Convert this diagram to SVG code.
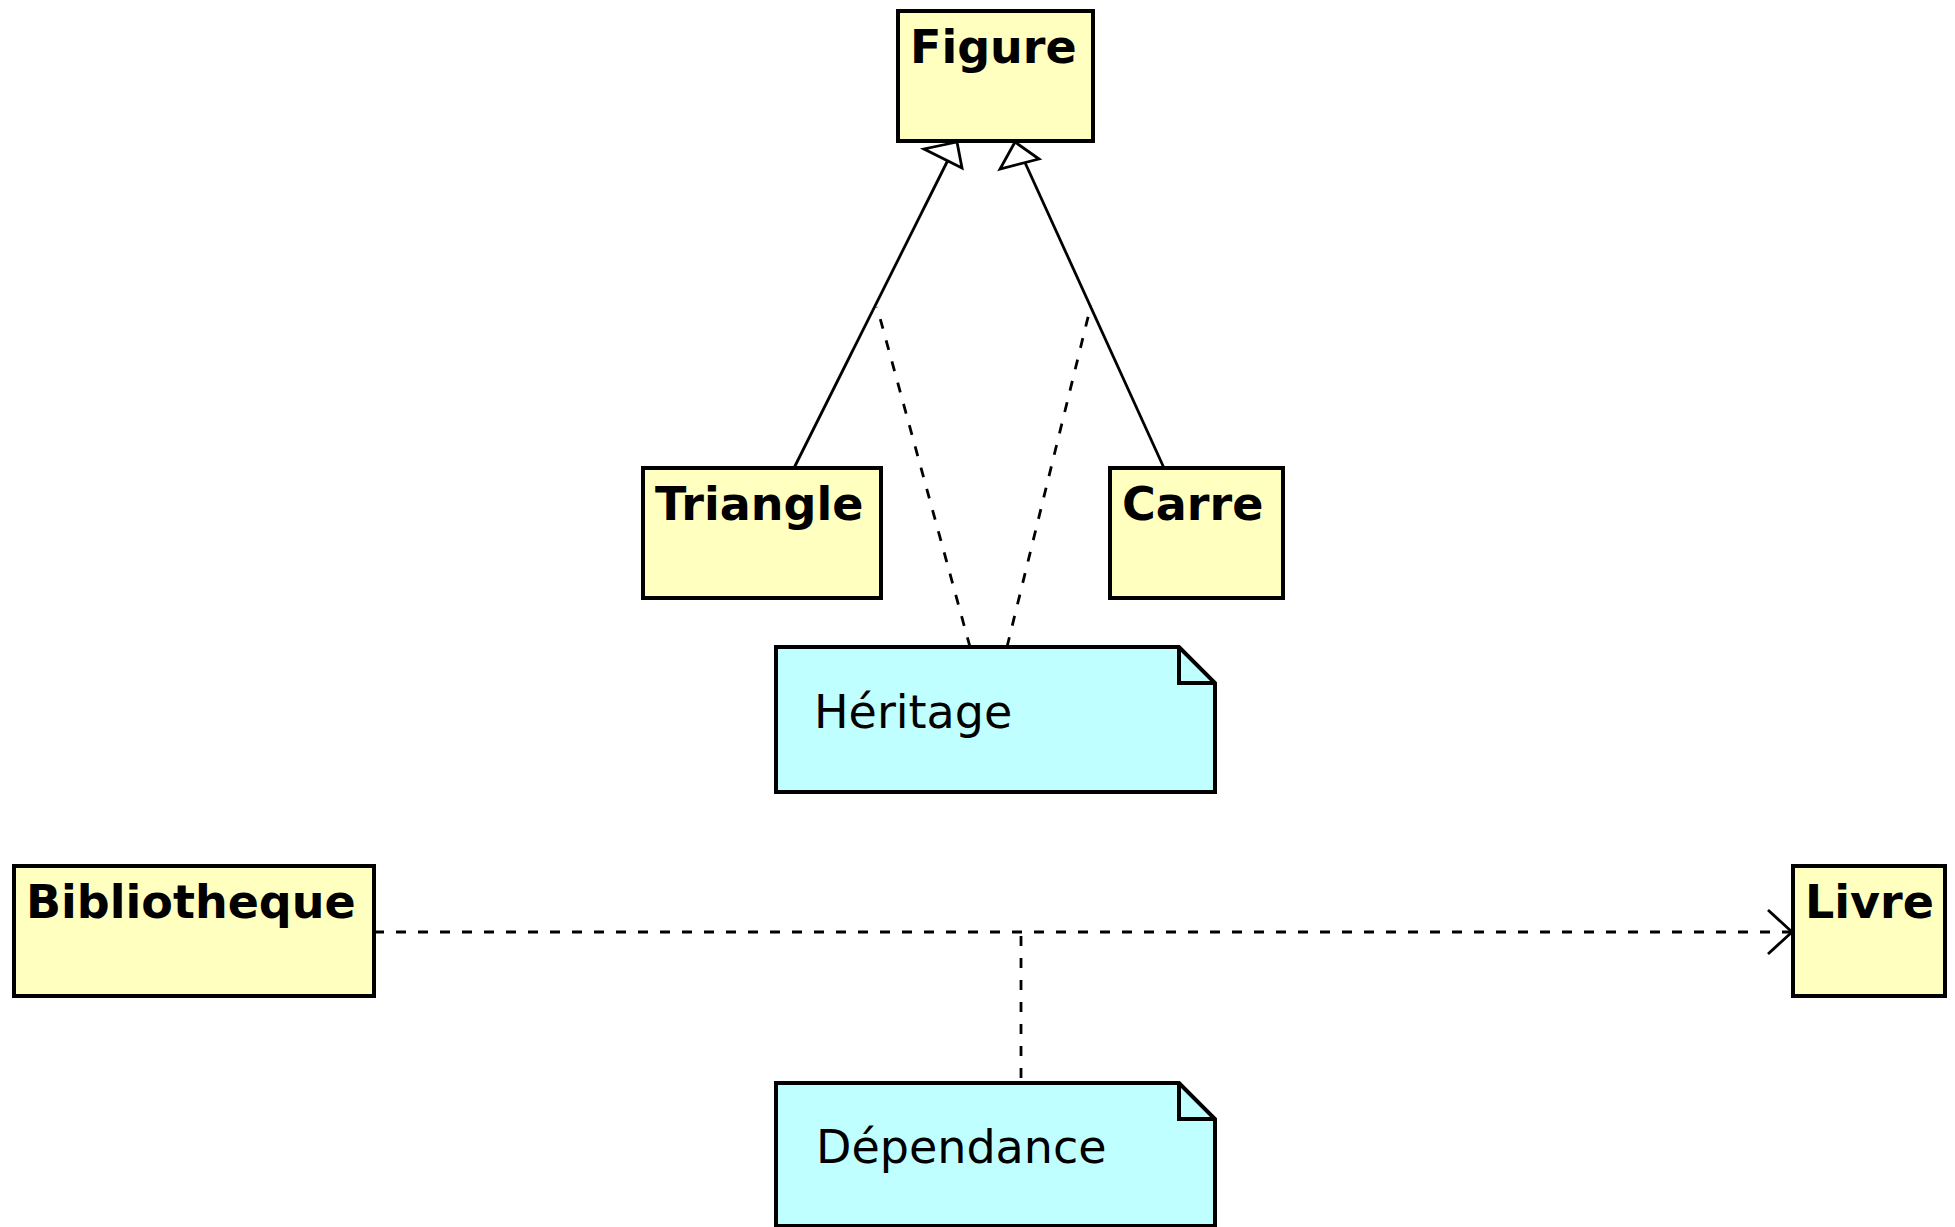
<svg xmlns="http://www.w3.org/2000/svg" width="1955" height="1227" viewBox="0 0 1955 1227">
  <style>
    .cls { fill: #FFFFC0; stroke: #000; stroke-width: 4; }
    .note { fill: #C0FFFF; stroke: #000; stroke-width: 4; }
    .fold { fill: none; stroke: #000; stroke-width: 4; }
    .foldDiag { fill: none; stroke: #000; stroke-width: 2.5; stroke-dasharray: 3.5 3; }
    .name { font-family: "DejaVu Sans", Verdana, sans-serif; font-weight: bold; font-size: 46px; fill: #000; }
    .ntext { font-family: "DejaVu Sans", Verdana, sans-serif; font-size: 46px; fill: #000; }
    .solid { fill: none; stroke: #000; stroke-width: 2.8; }
    .dash { fill: none; stroke: #000; stroke-width: 2.8; stroke-dasharray: 10 12; }
    .head { fill: #fff; stroke: #000; stroke-width: 2.8; stroke-linejoin: miter; }
  </style>
  <rect width="1955" height="1227" fill="#fff"/>

  <g id="connectors">
    <!-- generalizations Triangle -> Figure, Carre -> Figure -->
    <line class="solid" x1="794" y1="468" x2="950" y2="156"/>
    <line class="solid" x1="1164" y1="468" x2="1022" y2="156"/>
    <!-- hollow triangle heads -->
    <polygon class="head" points="957,142 924,149 962,168"/>
    <polygon class="head" points="1015,142 1000,169 1039,159"/>
    <!-- note anchors -->
    <line class="dash" x1="970" y1="647" x2="877" y2="307"/>
    <line class="dash" x1="1007" y1="647" x2="1091" y2="305"/>
    <!-- dependency Bibliotheque -> Livre -->
    <line class="dash" x1="374" y1="932" x2="1792" y2="932"/>
    <polyline class="solid" points="1768,910 1792,932 1768,954"/>
    <line class="dash" x1="1021" y1="936" x2="1021" y2="1083"/>
  </g>

  <g id="figure">
    <rect class="cls" x="898" y="11" width="195" height="130"/>
    <text class="name" x="910" y="63">Figure</text>
  </g>

  <g id="triangle">
    <rect class="cls" x="643" y="468" width="238" height="130"/>
    <text class="name" x="655" y="520">Triangle</text>
  </g>

  <g id="carre">
    <rect class="cls" x="1110" y="468" width="173" height="130"/>
    <text class="name" x="1122" y="520">Carre</text>
  </g>

  <g id="note-heritage">
    <polygon class="note" points="776,647 1179,647 1215,683 1215,792 776,792"/>
    <polyline class="fold" points="1179,647 1179,683 1215,683"/>
    <line class="foldDiag" x1="1179" y1="647" x2="1215" y2="683"/>
    <text class="ntext" x="814" y="728">Héritage</text>
  </g>

  <g id="bibliotheque">
    <rect class="cls" x="14" y="866" width="360" height="130"/>
    <text class="name" x="26" y="918">Bibliotheque</text>
  </g>

  <g id="livre">
    <rect class="cls" x="1793" y="866" width="152" height="130"/>
    <text class="name" x="1805" y="918">Livre</text>
  </g>

  <g id="note-dependance">
    <polygon class="note" points="776,1083 1179,1083 1215,1119 1215,1226 776,1226"/>
    <polyline class="fold" points="1179,1083 1179,1119 1215,1119"/>
    <line class="foldDiag" x1="1179" y1="1083" x2="1215" y2="1119"/>
    <text class="ntext" x="816" y="1163">Dépendance</text>
  </g>
</svg>
